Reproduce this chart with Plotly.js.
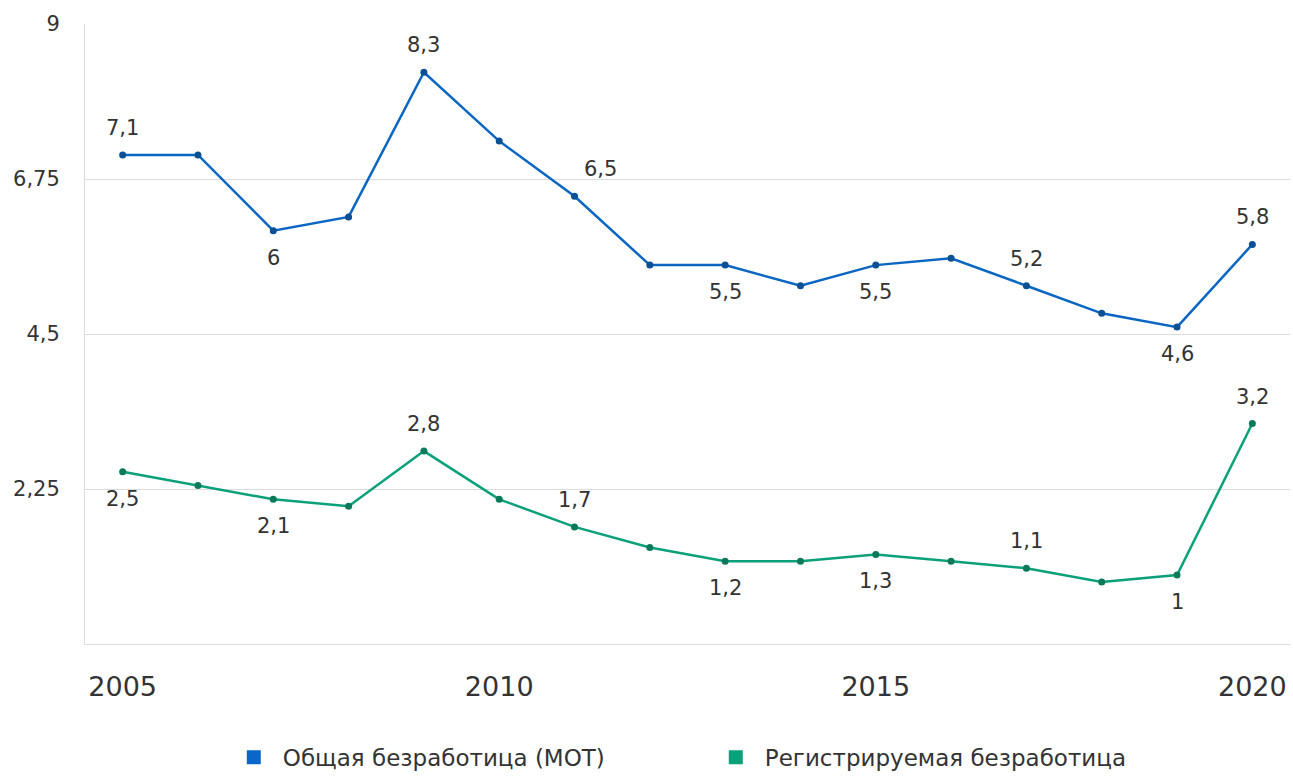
<!DOCTYPE html>
<html>
<head>
<meta charset="utf-8">
<script src="https://cdn.plot.ly/plotly-3.0.1.min.js"></script>
<style>
  html, body { margin: 0; padding: 0; background: #fff; }
  #chart { width: 1293px; height: 776px; }
</style>
</head>
<body>
<div id="chart"></div>
<script>
// années
var years = [2005, 2006, 2007, 2008, 2009, 2010, 2011, 2012, 2013, 2014, 2015, 2016, 2017, 2018, 2019, 2020];

// séries (en %)
var totalMOT = [7.1, 7.1, 6.0, 6.2, 8.3, 7.3, 6.5, 5.5, 5.5, 5.2, 5.5, 5.6, 5.2, 4.8, 4.6, 5.8];
var registered = [2.5, 2.3, 2.1, 2.0, 2.8, 2.1, 1.7, 1.4, 1.2, 1.2, 1.3, 1.2, 1.1, 0.9, 1.0, 3.2];

// quels points portent une étiquette, et de quel côté (1 = dessus, -1 = dessous)
var labelsMOT = {2005: 1, 2007: -1, 2009: 1, 2011: 1, 2013: -1, 2015: -1, 2017: 1, 2019: -1, 2020: 1};
var labelsReg = {2005: -1, 2007: -1, 2009: 1, 2011: 1, 2013: -1, 2015: -1, 2017: 1, 2019: -1, 2020: 1};

var names = ['Общая безработица (МОТ)', 'Регистрируемая безработица'];
var yTicks = [0, 2.25, 4.5, 6.75, 9];

var fontFamily = 'DejaVu Sans, sans-serif';
var textColor = '#333333';

function fmt(v) {
    return String(v).replace('.', ',');
}

var annotations = [];
function addLabels(values, labels, extraShift) {
    years.forEach((yr, k) => {
        if (labels[yr] === undefined) return;
        annotations.push({
            x: yr, y: values[k],
            text: fmt(values[k]),
            showarrow: false,
            yshift: 27 * labels[yr],
            xshift: (extraShift && extraShift[yr]) || 0,
            font: { family: fontFamily, size: 21, color: textColor }
        });
    });
}
addLabels(totalMOT, labelsMOT, {2011: 26});
addLabels(registered, labelsReg);

var data = [
    {
        x: years, y: totalMOT, name: names[0],
        mode: 'lines+markers', showlegend: false,
        line: { color: '#0a66c2', width: 2.5 },
        marker: { color: '#0b4f94', size: 7 }
    },
    {
        x: years, y: registered, name: names[1],
        mode: 'lines+markers', showlegend: false,
        line: { color: '#0aa07a', width: 2.5 },
        marker: { color: '#0a7a5a', size: 7 }
    },
    // carrés pour la légende
    {
        x: [null], y: [null], name: names[0], type: 'bar',
        marker: { color: '#0a66c8', line: { color: '#0a66c8', width: 2 } }
    },
    {
        x: [null], y: [null], name: names[1], type: 'bar',
        marker: { color: '#0aa07a', line: { color: '#0aa07a', width: 2 } }
    }
];

var layout = {
    width: 1293, height: 776,
    separators: ', ',
    margin: { l: 85, r: 3, t: 24, b: 132, autoexpand: false },
    paper_bgcolor: '#fff', plot_bgcolor: '#fff',
    font: { family: fontFamily, color: textColor },
    showlegend: true,
    legend: {
        orientation: 'h', x: 0.116, xanchor: 'left', y: -0.148, yanchor: 'top',
        font: { size: 23, color: textColor },
        entrywidth: 419, itemwidth: 48
    },
    xaxis: {
        range: [2004.5, 2020.5],
        tickmode: 'array', tickvals: [2005, 2010, 2015, 2020],
        ticks: '', ticklabelstandoff: 19,
        showgrid: false, zeroline: false,
        showline: true, linecolor: '#dcdcdc', linewidth: 1,
        tickfont: { size: 27, color: textColor },
        fixedrange: true
    },
    yaxis: {
        range: [0, 9],
        tickmode: 'array', tickvals: yTicks, ticktext: yTicks.map(v => v === 0 ? '' : fmt(v)),
        showgrid: true, gridcolor: '#dcdcdc', gridwidth: 1,
        zeroline: false,
        showline: true, linecolor: '#dcdcdc', linewidth: 1,
        ticks: '', ticklabelstandoff: 20,
        tickfont: { size: 21, color: textColor },
        fixedrange: true
    },
    annotations: annotations
};

Plotly.newPlot('chart', data, layout, { displayModeBar: false, staticPlot: true });
</script>
</body>
</html>
